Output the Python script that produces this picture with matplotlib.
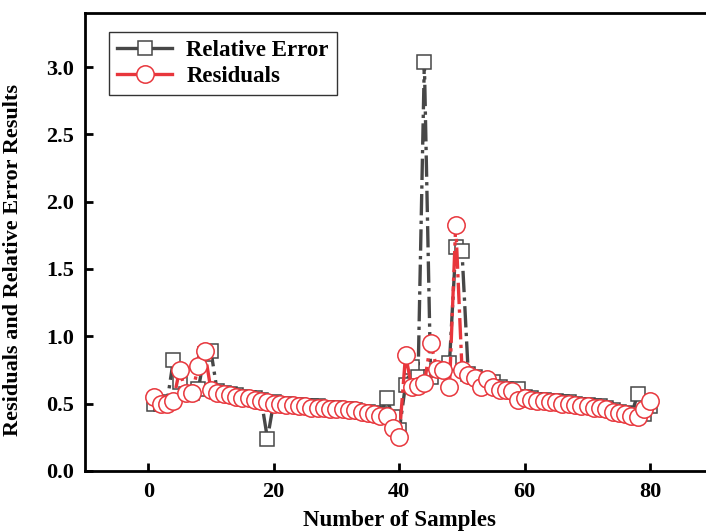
import numpy as np
import matplotlib
matplotlib.use("Agg")
import matplotlib.pyplot as plt

# sample index and the two series
samples = list(range(1, 81))

relative_error = [
    0.50, 0.50, 0.51, 0.82, 0.66, 0.57, 0.58, 0.61, 0.87, 0.89,
    0.59, 0.58, 0.57, 0.56, 0.55, 0.54, 0.54, 0.53, 0.24, 0.51,
    0.50, 0.50, 0.49, 0.49, 0.48, 0.48, 0.48, 0.47, 0.47, 0.47,
    0.46, 0.46, 0.45, 0.44, 0.44, 0.43, 0.42, 0.54, 0.40, 0.30,
    0.64, 0.77, 0.70, 3.04, 0.70, 0.75, 0.75, 0.80, 1.66, 1.63,
    0.72, 0.70, 0.66, 0.64, 0.66, 0.62, 0.61, 0.60, 0.61, 0.55,
    0.54, 0.53, 0.53, 0.52, 0.52, 0.51, 0.51, 0.50, 0.49, 0.49,
    0.48, 0.48, 0.47, 0.45, 0.44, 0.43, 0.42, 0.57, 0.42, 0.48,
]

residuals = [
    0.55, 0.50, 0.50, 0.52, 0.75, 0.58, 0.58, 0.78, 0.89, 0.60,
    0.58, 0.57, 0.56, 0.55, 0.54, 0.54, 0.53, 0.52, 0.51, 0.50,
    0.50, 0.49, 0.49, 0.48, 0.48, 0.47, 0.47, 0.47, 0.46, 0.46,
    0.46, 0.45, 0.45, 0.44, 0.43, 0.42, 0.41, 0.41, 0.32, 0.25,
    0.86, 0.62, 0.63, 0.65, 0.95, 0.76, 0.75, 0.62, 1.83, 0.75,
    0.71, 0.69, 0.62, 0.68, 0.62, 0.60, 0.60, 0.59, 0.53, 0.54,
    0.53, 0.52, 0.52, 0.51, 0.51, 0.50, 0.50, 0.49, 0.48, 0.48,
    0.47, 0.47, 0.46, 0.44, 0.43, 0.42, 0.41, 0.40, 0.46, 0.52,
]

plt.rcParams['font.family'] = ['Liberation Serif', 'DejaVu Serif']
plt.rcParams['font.weight'] = 'bold'

fig = plt.figure(figsize=(7.06, 5.32), dpi=100)
ax = fig.add_axes([0.121, 0.115, 0.889, 0.860])

gray = '#474747'
red = '#e8363c'

ax.plot(samples, relative_error, color=gray, linestyle='-.', linewidth=2.4,
        marker='s', markersize=10.5, markerfacecolor='white',
        markeredgecolor=gray, markeredgewidth=1.1, label='Relative Error',
        zorder=2)
ax.plot(samples, residuals, color=red, linestyle='-.', linewidth=2.4,
        marker='o', markersize=12.5, markerfacecolor='white',
        markeredgecolor=red, markeredgewidth=1.1, label='Residuals',
        zorder=3)

ax.set_xlim(-10, 90)
ax.set_ylim(0, 3.4)
ax.set_xticks([0, 20, 40, 60, 80])
ax.set_yticks([0.0, 0.5, 1.0, 1.5, 2.0, 2.5, 3.0])
ax.set_yticklabels(['0.0', '0.5', '1.0', '1.5', '2.0', '2.5', '3.0'])

for s in ax.spines.values():
    s.set_linewidth(2.0)
ax.tick_params(direction='in', length=6, width=2, labelsize=16, pad=8)
for lab in ax.get_xticklabels() + ax.get_yticklabels():
    lab.set_fontweight('bold')

ax.set_xlabel('Number of Samples', fontsize=16.5, fontweight='bold')
ax.xaxis.set_label_coords(0.5, -0.085)
ax.set_ylabel('Residuals and Relative Error Results', fontsize=16,
              fontweight='bold')
ax.yaxis.set_label_coords(-0.1, 0.46)

leg = ax.legend(loc='upper left', bbox_to_anchor=(0.02, 0.985),
                fancybox=False, framealpha=1, edgecolor='#333333',
                borderpad=0.35, handlelength=2.4, handletextpad=0.6,
                labelspacing=0.25,
                prop={'family': 'Liberation Serif', 'weight': 'bold', 'size': 16.5})
leg.get_frame().set_linewidth(1.0)
for line in leg.get_lines():
    line.set_linestyle('-')

fig.savefig('out.png', dpi=100)
